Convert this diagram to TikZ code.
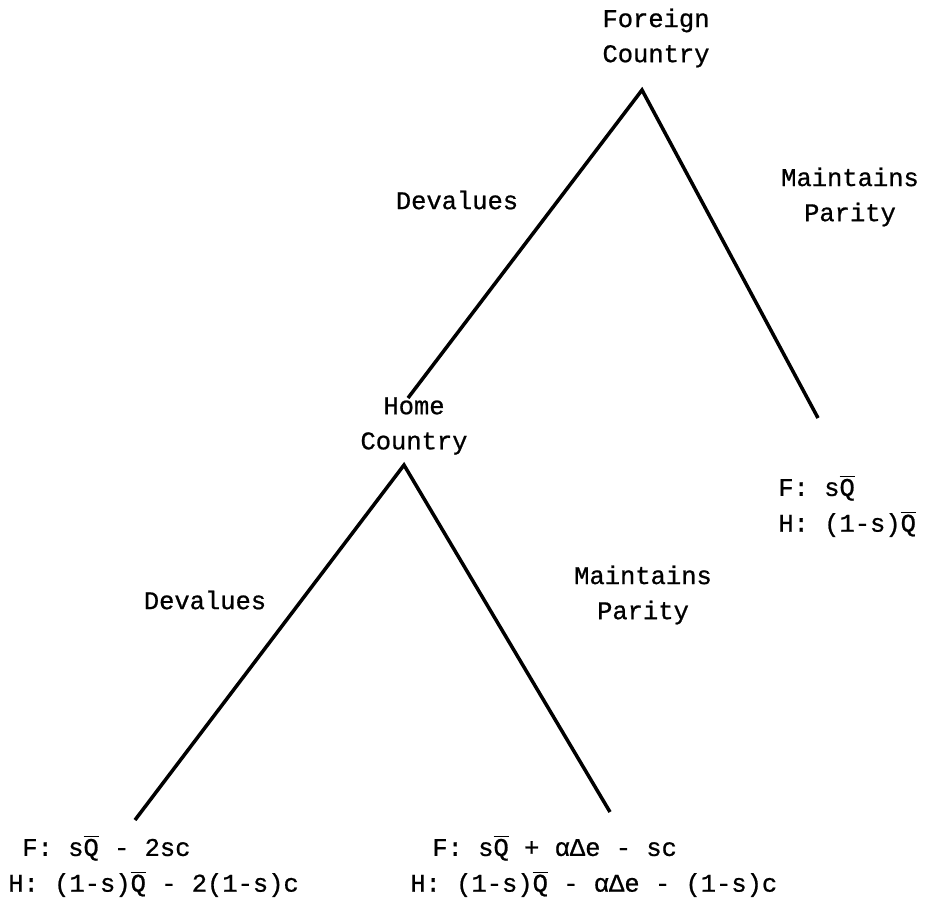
\documentclass[tikz,border=0pt]{standalone}
\usepackage{fontspec}
\newfontfamily\typew[FakeBold=0.8]{Liberation Mono}
\usepackage{tikz}
\usepackage{xcolor}

\newcommand{\Qb}{$\overline{\hbox{Q}}$}

\tikzset{
    lbl/.style={font=\typew\fontsize{14.5}{20}\selectfont, inner sep=0pt, align=center},
    pay/.style={font=\typew\fontsize{14.5}{20}\selectfont, inner sep=0pt, anchor=west},
    branch/.style={line width=2pt}
}

\begin{document}
\begin{tikzpicture}[x=0.02cm, y=-0.02cm]
        \useasboundingbox (0,0) rectangle (925,914);

        \node (fc) at (656, 38) [lbl] {Foreign\\Country};
        \node (hc) at (414, 426) [lbl] {Home\\Country};

        \coordinate (fTop) at (642, 90);
        \coordinate (fDev) at (408, 398);
        \coordinate (fPar) at (818, 418);
        \coordinate (hTop) at (404, 465);
        \coordinate (hDev) at (135, 820);
        \coordinate (hPar) at (610, 812);

        \node (fdevlbl) at (457, 200) [lbl] {Devalues};
        \node (fparlbl) at (850, 197) [lbl] {Maintains\\Parity};
        \node (hdevlbl) at (205, 600) [lbl] {Devalues};
        \node (hparlbl) at (643, 595) [lbl] {Maintains\\Parity};

        \node (pF1) at (778, 488) [pay] {F: s\Qb};
        \node (pH1) at (778, 524) [pay] {H: (1-s)\Qb};
        \node (pF2) at (22, 848) [pay] {F: s\Qb{} - 2sc};
        \node (pH2) at (8, 884) [pay] {H: (1-s)\Qb{} - 2(1-s)c};
        \node (pF3) at (432, 848) [pay] {F: s\Qb{} + αΔe - sc};
        \node (pH3) at (410, 884) [pay] {H: (1-s)\Qb{} - αΔe - (1-s)c};

        \draw[branch] (fDev) -- (fTop) -- (fPar);
        \draw[branch] (hDev) -- (hTop) -- (hPar);
    \end{tikzpicture}
\end{document}
